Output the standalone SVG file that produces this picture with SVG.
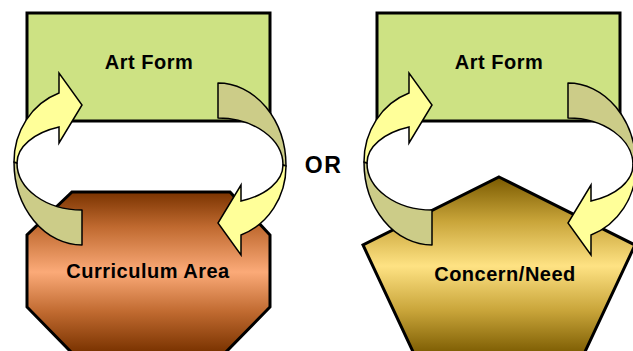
<svg xmlns="http://www.w3.org/2000/svg" width="633" height="351" viewBox="0 0 633 351">
<defs>
<linearGradient id="gOct" x1="0" y1="192" x2="0" y2="352" gradientUnits="userSpaceOnUse">
<stop offset="0" stop-color="#7a3300"/>
<stop offset="0.22" stop-color="#c06a30"/>
<stop offset="0.5" stop-color="#fbaa78"/>
<stop offset="0.75" stop-color="#c06a30"/>
<stop offset="1" stop-color="#7a3300"/>
</linearGradient>
<linearGradient id="gPent" x1="0" y1="177" x2="0" y2="355" gradientUnits="userSpaceOnUse">
<stop offset="0" stop-color="#7a5a00"/>
<stop offset="0.25" stop-color="#c9a53a"/>
<stop offset="0.5" stop-color="#fee283"/>
<stop offset="0.75" stop-color="#c9a53a"/>
<stop offset="1" stop-color="#7a5a00"/>
</linearGradient>
<g id="arrowL">
<path class="khaki" d="M14,162 A68,83 0 0 0 82,245 L82,210 A65,47 0 0 1 17,163 Z"/>
<path class="yellow" d="M14,162 A68,73 0 0 1 59,93 L59,73 L82,105 L59,143 L59,127 A65,38.5 0 0 0 17,163 Z"/>
</g>
</defs>
<style>
.box{fill:#cde283;stroke:#000;stroke-width:3}
.shape{stroke:#000;stroke-width:3}
.khaki{fill:#cccc88;stroke:#000;stroke-width:1.5;stroke-linejoin:round}
.yellow{fill:#ffff99;stroke:#000;stroke-width:1.5;stroke-linejoin:miter}
.lbl{font-family:"Liberation Sans",Arial,sans-serif;font-weight:bold;font-size:20px;letter-spacing:0.5px;fill:#000;text-anchor:middle}
</style>
<g id="artform1">
<rect class="box" x="27" y="13" width="243" height="108"/>
<text class="lbl" x="149" y="69">Art Form</text>
</g>
<g id="curriculum">
<polygon class="shape" fill="url(#gOct)" points="72,192 230,192 270,235 270,307 225,353 72,353 27,307 27,235"/>
<text class="lbl" x="148" y="278">Curriculum Area</text>
</g>
<g id="artform2">
<rect class="box" x="377" y="13" width="243" height="108"/>
<text class="lbl" x="499" y="69">Art Form</text>
</g>
<g id="concern">
<polygon class="shape" fill="url(#gPent)" points="499,177 635,245 583,356 415,356 363,245"/>
<text class="lbl" x="505" y="281">Concern/Need</text>
</g>
<g id="or">
<text class="lbl" x="323.5" y="173" style="font-size:23px;letter-spacing:1.5px">OR</text>
</g>
<g id="connectors">
<use href="#arrowL"/>
<use href="#arrowL" transform="rotate(180 150 164)"/>
<use href="#arrowL" transform="translate(350 0)"/>
<use href="#arrowL" transform="translate(350 0) rotate(180 150 164)"/>
</g>
</svg>
